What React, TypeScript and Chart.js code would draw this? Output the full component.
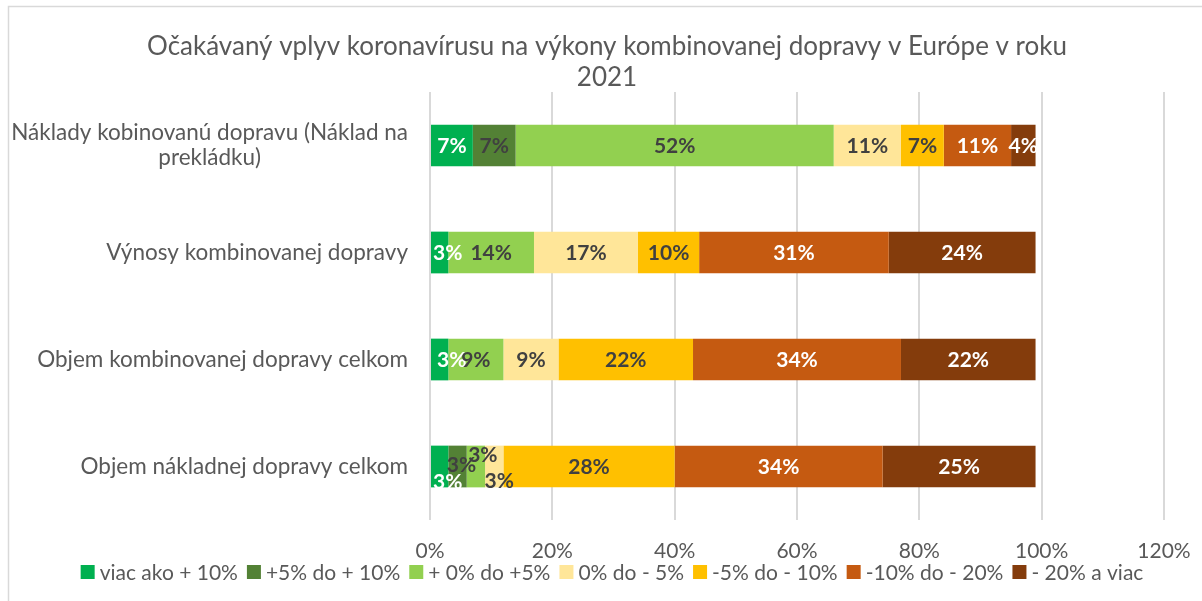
import React, { useEffect, useRef } from "react";
import { Chart, registerables } from "chart.js";

Chart.register(...registerables);

const categories: string[][] = [
  ["Náklady kobinovanú dopravu (Náklad na", "prekládku)"],
  ["Výnosy kombinovanej dopravy"],
  ["Objem kombinovanej dopravy celkom"],
  ["Objem nákladnej dopravy celkom"],
];

const seriesNames = [
  "viac ako + 10%",
  "+5% do + 10%",
  "+ 0% do +5%",
  "0% do - 5%",
  "-5% do - 10%",
  "-10% do - 20%",
  "- 20% a viac",
];

// values per series, one per category (row order top to bottom)
const viacAko10: (number | null)[] = [7, 3, 3, 3];
const plus5do10: (number | null)[] = [7, null, null, 3];
const plus0do5: (number | null)[] = [52, 14, 9, 3];
const nula_minus5: (number | null)[] = [11, 17, 9, 3];
const minus5do10: (number | null)[] = [7, 10, 22, 28];
const minus10do20: (number | null)[] = [11, 31, 34, 34];
const minus20viac: (number | null)[] = [4, 24, 22, 25];

const seriesValues = [viacAko10, plus5do10, plus0do5, nula_minus5, minus5do10, minus10do20, minus20viac];

const xTicks = [0, 20, 40, 60, 80, 100, 120];

const titleLines = ["Očakávaný vplyv koronavírusu na výkony kombinovanej dopravy v Európe v roku", "2021"];

const colors = ["#00B050", "#538135", "#92D050", "#FFE699", "#FFC000", "#C55A11", "#843C0C"];
const labelColors = ["#FFFFFF", "#404040", "#404040", "#404040", "#404040", "#FFFFFF", "#FFFFFF"];

// label nudges (dataset:index -> [dx, dy]) mimicking overlap-avoidance in the original
const nudges: Record<string, [number, number]> = {
  "0:1": [8, 0],
  "0:2": [12, 0],
  "0:3": [8, 15],
  "1:3": [4, -2],
  "2:3": [7, -12],
  "3:3": [5, 14],
};

const FONT = "Lato, 'Open Sans', sans-serif";
const TEXT = "#595959";

const decorPlugin = {
  id: "decor",
  afterDraw(chart: any) {
    const ctx = chart.ctx as CanvasRenderingContext2D;
    ctx.save();
    // outer border
    ctx.strokeStyle = "#D9D9D9";
    ctx.lineWidth = 1.5;
    ctx.strokeRect(8.5, 6.5, 1400, 800);

    // title
    ctx.fillStyle = TEXT;
    ctx.font = `26px ${FONT}`;
    ctx.textAlign = "center";
    ctx.textBaseline = "middle";
    ctx.fillText(titleLines[0], 607, 47);
    ctx.fillText(titleLines[1], 607, 78);

    // category labels
    const yScale = chart.scales.y;
    ctx.font = `22.5px ${FONT}`;
    const right = 408;
    categories.forEach((lines, i) => {
      const yc = yScale.getPixelForValue(i);
      const widths = lines.map((l) => ctx.measureText(l).width);
      const maxW = Math.max(...widths);
      const cx = right - maxW / 2;
      const lh = 25;
      const y0 = yc - ((lines.length - 1) * lh) / 2;
      lines.forEach((l, j) => {
        ctx.textAlign = "center";
        ctx.fillText(l, cx, y0 + j * lh);
      });
    });

    // legend
    ctx.font = `21px ${FONT}`;
    const box = 14;
    const gapAfterBox = 5;
    const gapItems = 9;
    const widths = seriesNames.map((n) => ctx.measureText(n).width);
    const total = widths.reduce((a, b) => a + b, 0) + seriesNames.length * (box + gapAfterBox) + (seriesNames.length - 1) * gapItems;
    let x = 612 - total / 2;
    const ly = 572;
    ctx.textAlign = "left";
    seriesNames.forEach((n, i) => {
      ctx.fillStyle = colors[i];
      ctx.fillRect(x, ly - box / 2, box, box);
      x += box + gapAfterBox;
      ctx.fillStyle = TEXT;
      ctx.fillText(n, x, ly + 1);
      x += widths[i] + gapItems;
    });
    ctx.restore();
  },
  afterDatasetsDraw(chart: any) {
    const ctx = chart.ctx as CanvasRenderingContext2D;
    ctx.save();
    ctx.font = `bold 21px ${FONT}`;
    ctx.textAlign = "center";
    ctx.textBaseline = "middle";
    chart.data.datasets.forEach((ds: any, di: number) => {
      const meta = chart.getDatasetMeta(di);
      meta.data.forEach((el: any, i: number) => {
        const v = ds.data[i];
        if (v == null) return;
        const cx = (el.x + el.base) / 2;
        const n = nudges[`${di}:${i}`] || [0, 0];
        ctx.fillStyle = labelColors[di];
        ctx.fillText(`${v}%`, cx + n[0], el.y + n[1] + 1);
      });
    });
    ctx.restore();
  },
};

export default function App() {
  const ref = useRef<HTMLCanvasElement>(null);
  useEffect(() => {
    if (!ref.current) return;
    const chart = new Chart(ref.current, {
      type: "bar",
      data: {
        labels: categories.map((c) => c.join(" ")),
        datasets: seriesNames.map((name, i) => ({
          label: name,
          data: seriesValues[i],
          backgroundColor: colors[i],
          borderWidth: 0,
          barPercentage: 0.39,
          categoryPercentage: 1,
        })),
      },
      options: {
        indexAxis: "y",
        responsive: false,
        animation: false,
        devicePixelRatio: 1,
        layout: { padding: { left: 430, right: 38, top: 92, bottom: 0 } },
        plugins: {
          legend: { display: false },
          title: { display: false },
          tooltip: { enabled: false },
        },
        scales: {
          x: {
            stacked: true,
            min: 0,
            max: 120,
            afterBuildTicks: (scale: any) => {
              scale.ticks = xTicks.map((v) => ({ value: v }));
            },
            afterFit: (scale: any) => {
              scale.height = 81;
              scale.paddingLeft = 0;
              scale.paddingRight = 0;
            },
            grid: { color: "#D9D9D9", lineWidth: 2, drawTicks: false },
            border: { display: false },
            ticks: {
              color: TEXT,
              font: { family: FONT, size: 21 },
              padding: 19,
              callback: (v: any) => `${v}%`,
            },
          },
          y: {
            stacked: true,
            display: false,
          },
        },
      },
      plugins: [decorPlugin],
    });
    return () => chart.destroy();
  }, []);
  return (
    <div style={{ position: "fixed", left: 0, top: 0, width: 1202, height: 601, background: "#fff" }}>
      <canvas ref={ref} width={1202} height={601} />
    </div>
  );
}
